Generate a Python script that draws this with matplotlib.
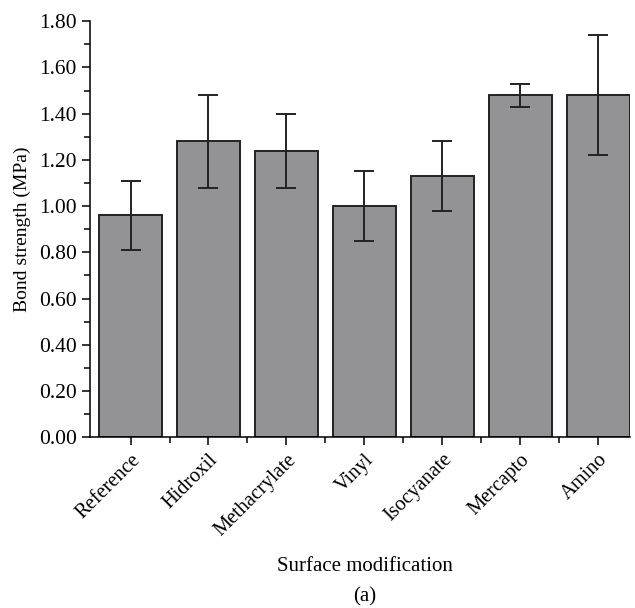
import matplotlib
matplotlib.use("Agg")
import matplotlib.pyplot as plt
from matplotlib.ticker import MultipleLocator, FormatStrFormatter
import numpy as np

plt.rcParams['font.family'] = ['Liberation Serif', 'DejaVu Serif']

modifications = ['Reference', 'Hidroxil', 'Methacrylate', 'Vinyl', 'Isocyanate', 'Mercapto', 'Amino']
strength = [0.96, 1.28, 1.24, 1.00, 1.13, 1.48, 1.48]
strength_sd = [0.15, 0.20, 0.16, 0.15, 0.15, 0.05, 0.26]

fig = plt.figure(figsize=(6.35, 6.08), dpi=100)
ax = fig.add_axes([0.1417, 0.281, 0.8503, 0.684])

x = np.arange(len(modifications))
ax.bar(x, strength, width=0.81, color='#939396', edgecolor='#222222', linewidth=1.4,
       yerr=strength_sd, capsize=7,
       error_kw=dict(ecolor='#222222', elinewidth=1.4, capthick=1.4))

ax.set_xlim(-0.52, 6.405)
ax.set_ylim(0, 1.8)
ax.spines['top'].set_visible(False)
ax.spines['right'].set_visible(False)
for s in ('left', 'bottom'):
    ax.spines[s].set_linewidth(1.1)

ax.set_xticks(x)
ax.set_xticklabels(modifications, rotation=45, ha='right', rotation_mode='anchor', fontsize=14.7)
ax.set_xticks(x[:-1] + 0.5, minor=True)
ax.yaxis.set_major_locator(MultipleLocator(0.2))
ax.yaxis.set_minor_locator(MultipleLocator(0.1))
ax.yaxis.set_major_formatter(FormatStrFormatter('%.2f'))
ax.tick_params(axis='y', labelsize=15.5)
ax.tick_params(which='major', direction='out', length=6, width=1.1)
ax.tick_params(which='minor', direction='out', length=4, width=1.1)

ax.set_ylabel('Bond strength (MPa)', fontsize=14, labelpad=6)
fig.text(0.574, 0.068, 'Surface modification', ha='center', va='center', fontsize=15)
fig.text(0.574, 0.018, '(a)', ha='center', va='center', fontsize=15)

fig.savefig('out.png', dpi=100)
